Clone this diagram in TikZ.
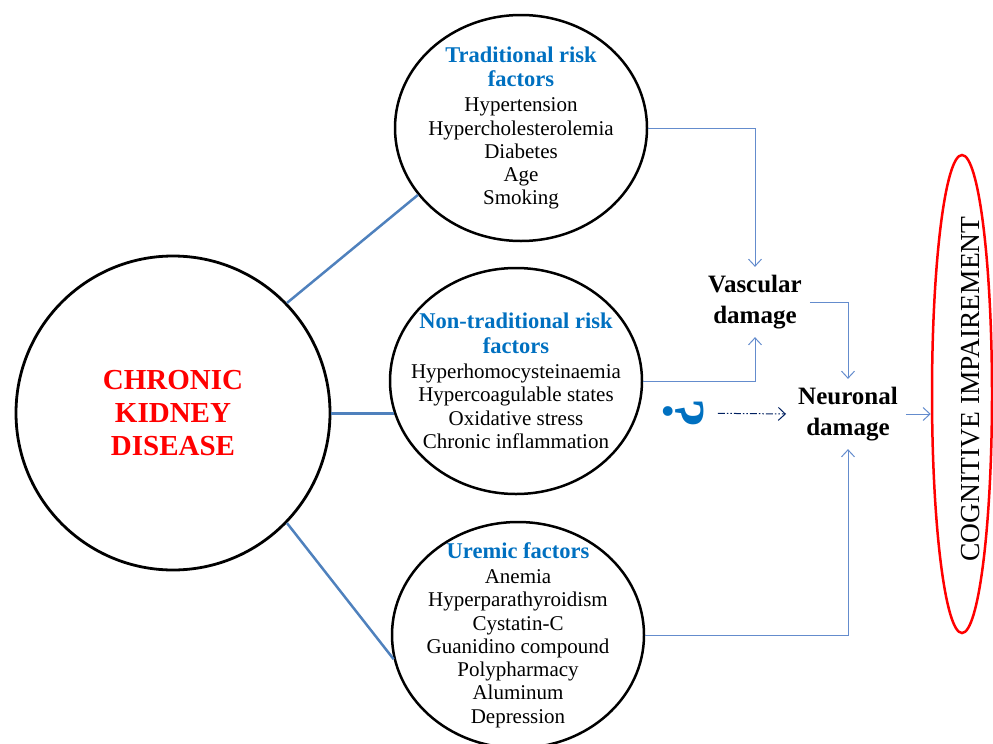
\documentclass[tikz,border=0pt]{standalone}
\usepackage{fontspec}
\setmainfont{Liberation Serif}
\usetikzlibrary{arrows.meta, positioning, shapes.geometric}
\definecolor{ckdred}{RGB}{255,0,0}
\definecolor{hdblue}{RGB}{0,112,192}
\definecolor{linkblue}{RGB}{79,129,189}
\definecolor{arrblue}{RGB}{100,140,205}
\definecolor{navy}{RGB}{0,32,96}
\newcommand{\hd}[1]{{\color{hdblue}\fontsize{22.5}{26}\selectfont\bfseries #1}}

\begin{document}
\begin{tikzpicture}[x=1pt, y=-1pt,
        every node/.style={font=\fontsize{21}{23.3}\selectfont},
        bigcirc/.style={circle, draw, line width=2.8pt, minimum size=314pt, inner sep=0pt, align=center},
        factor/.style={ellipse, draw, line width=2.5pt, minimum width=252pt, minimum height=226pt, inner sep=-25pt, align=center},
        damage/.style={font=\fontsize{25}{31}\selectfont\bfseries, align=center, inner sep=8pt},
        link/.style={linkblue, line width=2.5pt},
        arrow/.style={arrblue, line width=1pt, -{Straight Barb[length=7pt, width=13pt]}}
    ]
        \useasboundingbox (0,0) rectangle (993,744);
        \node[bigcirc, text=ckdred, font=\fontsize{29}{33}\selectfont\bfseries] (ckd) at (173,413) {CHRONIC\\KIDNEY\\DISEASE};
        \node[factor] (trad) at (521,128) {\hd{Traditional risk}\\[1pt]\hd{factors}\\[2pt]Hypertension\\Hypercholesterolemia\\Diabetes\\Age\\Smoking};
        \node[factor] (nontrad) at (516,381) {\hd{Non-traditional risk}\\[1pt]\hd{factors}\\[2pt]Hyperhomocysteinaemia\\Hypercoagulable states\\Oxidative stress\\Chronic inflammation};
        \node[factor] (uremic) at (518,635) {\hd{Uremic factors}\\[2pt]Anemia\\Hyperparathyroidism\\Cystatin-C\\Guanidino compound\\Polypharmacy\\Aluminum\\Depression};
        \node[damage] (vasc) at (755,302) {Vascular\\damage};
        \node[damage] (neur) at (848,414) {Neuronal\\damage};
        \node[text=hdblue, rotate=90, font=\fontsize{60}{60}\selectfont\bfseries] (qmark) at (684,413) {¿};
        \node[ellipse, draw=ckdred, line width=2.5pt, minimum width=60pt, minimum height=478pt] (cog) at (962,394) {};
        \node[rotate=90, font=\fontsize{27.5}{28}\selectfont] (cogtext) at (971,389) {COGNITIVE IMPAIREMENT};
        \draw[link] (ckd.44) -- (trad.213);
        \draw[link] (nontrad.195 -| ckd.east) -- (nontrad.195);
        \draw[link] (ckd.-44) -- (uremic.191);
        \draw[arrow] (trad.east) -| (vasc.north);
        \draw[arrow] (nontrad.east) -| (vasc.south);
        \draw[arrow] (vasc.east) -| (neur.north);
        \draw[arrow] (uremic.east) -| (neur.south);
        \draw[arrow] (neur.east) -- (neur.east -| cog.west);
        \draw[navy, line width=1pt, dash pattern=on 7pt off 2pt on 1.5pt off 2pt on 1.5pt off 2pt, -{Straight Barb[length=7pt, width=13pt]}, shorten <=10pt, shorten >=4pt] (qmark) -- (neur.west);
    \end{tikzpicture}
\end{document}
